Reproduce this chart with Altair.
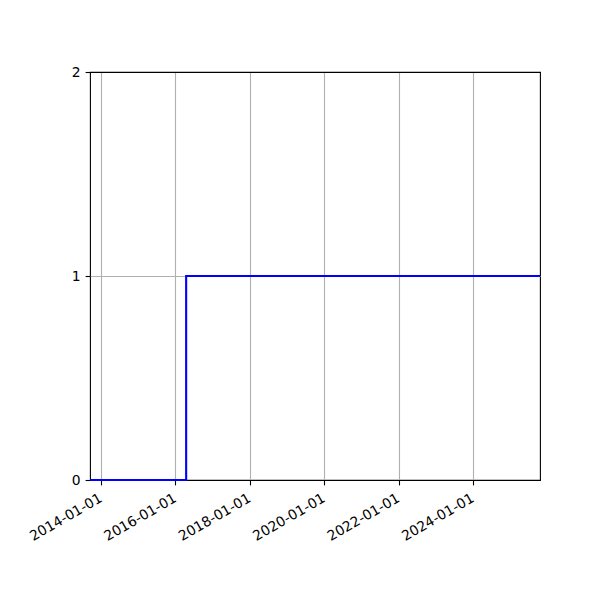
import altair as alt
import pandas as pd

dates = ["2013-09-14", "2016-04-15", "2025-10-19"]
values = [0, 1, 1]
tick_years = [2014, 2016, 2018, 2020, 2022, 2024]
y_domain = [0, 2]

df = pd.DataFrame({"date": dates, "value": values})

x_ticks = [alt.DateTime(year=y, month=1, date=1, utc=True) for y in tick_years]

chart = alt.Chart(df).mark_line(
    interpolate="step-after", color="#0000ff", strokeWidth=2.1, clip=False
).encode(
    x=alt.X(
        "date:T",
        scale=alt.Scale(type="utc", domain=[alt.DateTime(year=2013, month=9, date=14, utc=True),
                                            alt.DateTime(year=2025, month=10, date=19, utc=True)],
                        nice=False),
        axis=alt.Axis(values=x_ticks, format="%Y-%m-%d", labelAngle=-30, labelAlign="right",
                      labelBaseline="top", labelOverlap=False, title=None,
                      labelOffset=-4, labelPadding=6),
    ),
    y=alt.Y(
        "value:Q",
        scale=alt.Scale(domain=y_domain, nice=False),
        axis=alt.Axis(tickMinStep=1, title=None, labelOverlap=False,
                      gridColor={"condition": {"test": "datum.value === 1", "value": "#b0b0b0"},
                                 "value": "black"}),
    ),
).properties(
    width=450,
    height=408,
    autosize=alt.AutoSizeParams(type="none"),
    padding={"left": 82, "top": 64, "right": 50, "bottom": 110},
).configure_view(
    stroke="black", strokeWidth=1.1
).configure_axis(
    domain=False,
    grid=True,
    gridColor="#b0b0b0",
    gridWidth=1.1,
    tickColor="black",
    tickWidth=1.1,
    tickSize=4.9,
    labelFont="DejaVu Sans",
    labelFontSize=13.9,
    labelColor="black",
    labelPadding=4.9,
)

chart.save("out.html", embed_options={"renderer": "svg", "actions": False})
